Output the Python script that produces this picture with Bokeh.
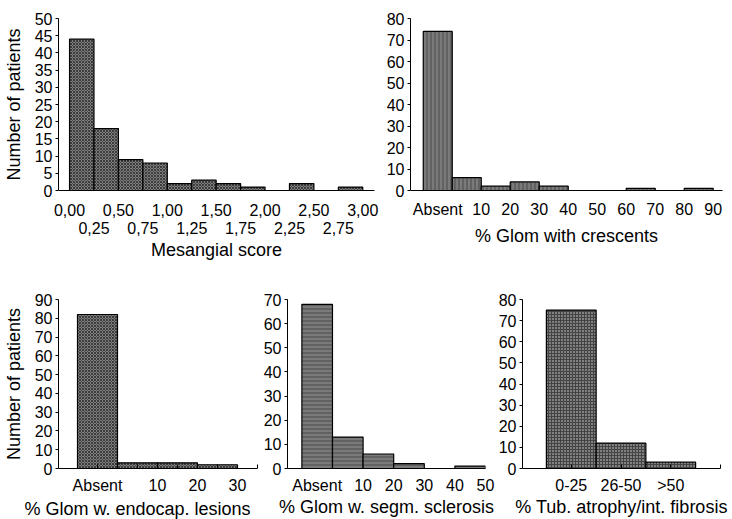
from bokeh.plotting import figure
from bokeh.layouts import column, row
from bokeh.models import FixedTicker, LinearAxis, Range1d, Title
from bokeh.embed import file_html
from bokeh.resources import INLINE

FONT = "Liberation Sans"
TICK_FS = "16px"
TITLE_FS = "18px"

# ---------------- data ----------------
# Panel 1: Mesangial score
mes_edges = [0.00, 0.25, 0.50, 0.75, 1.00, 1.25, 1.50, 1.75, 2.00, 2.25, 2.50, 2.75, 3.00]
mes_counts = [44, 18, 9, 8, 2, 3, 2, 1, 0, 2, 0, 1]
mes_ticks_row1 = [0.0, 0.5, 1.0, 1.5, 2.0, 2.5, 3.0]
mes_labels_row1 = ["0,00", "0,50", "1,00", "1,50", "2,00", "2,50", "3,00"]
mes_ticks_row2 = [0.25, 0.75, 1.25, 1.75, 2.25, 2.75]
mes_labels_row2 = ["0,25", "0,75", "1,25", "1,75", "2,25", "2,75"]
mes_yticks = [0, 5, 10, 15, 20, 25, 30, 35, 40, 45, 50]

# Panel 2: % Glom with crescents ("Absent" bin drawn left of 0)
cres_edges = [-10, 0, 10, 20, 30, 40, 50, 60, 70, 80, 90]
cres_counts = [74, 6, 2, 4, 2, 0, 0, 1, 0, 1]
cres_tick_pos = [-5, 10, 20, 30, 40, 50, 60, 70, 80, 90]
cres_tick_labels = ["Absent", "10", "20", "30", "40", "50", "60", "70", "80", "90"]
cres_yticks = [0, 10, 20, 30, 40, 50, 60, 70, 80]

# Panel 3: % Glom w. endocap. lesions
endo_edges = [-10, 0, 10, 20, 30]
endo_counts = [82, 3, 3, 2]
endo_tick_pos = [-5, 10, 20, 30]
endo_tick_labels = ["Absent", "10", "20", "30"]
endo_yticks = [0, 10, 20, 30, 40, 50, 60, 70, 80, 90]

# Panel 4: % Glom w. segm. sclerosis
scl_edges = [-10, 0, 10, 20, 30, 40, 50]
scl_counts = [68, 13, 6, 2, 0, 1]
scl_tick_pos = [-5, 10, 20, 30, 40, 50]
scl_tick_labels = ["Absent", "10", "20", "30", "40", "50"]
scl_yticks = [0, 10, 20, 30, 40, 50, 60, 70]

# Panel 5: % Tub. atrophy / int. fibrosis
tub_categories = ["0-25", "26-50", ">50"]
tub_counts = [75, 12, 3]
tub_yticks = [0, 10, 20, 30, 40, 50, 60, 70, 80]


# ---------------- helpers ----------------
def base_fig(width, height, xr, ymax, left, right, top, bottom):
    p = figure(width=width, height=height, x_range=Range1d(*xr), y_range=Range1d(0, ymax),
               output_backend="svg", toolbar_location=None,
               min_border_left=left, min_border_right=right,
               min_border_top=top, min_border_bottom=bottom)
    p.xgrid.visible = False
    p.ygrid.visible = False
    p.outline_line_color = None
    p.background_fill_color = "white"
    p.border_fill_color = "white"
    return p


def style_axis(ax):
    ax.axis_line_color = "black"
    ax.axis_line_width = 1
    ax.major_label_text_font = FONT
    ax.major_label_text_font_size = TICK_FS
    ax.major_label_text_color = "black"
    ax.axis_label_text_font = FONT
    ax.axis_label_text_font_size = TITLE_FS
    ax.axis_label_text_font_style = "normal"
    ax.axis_label_text_color = "black"
    ax.minor_tick_line_color = None


def style_y(p, ticks, label=None):
    ax = p.yaxis[0]
    style_axis(ax)
    ax.ticker = FixedTicker(ticks=ticks)
    ax.major_tick_out = 3
    ax.major_tick_in = 0
    ax.major_tick_line_color = "black"
    ax.major_label_standoff = 3
    if label:
        ax.axis_label = label
        ax.axis_label_standoff = 8


def hist(p, edges, counts, pattern, hcolor="#3c3c3c", fcolor="#7e7e7e", scale=3):
    lefts = [edges[i] for i in range(len(counts)) if counts[i] > 0]
    rights = [edges[i + 1] for i in range(len(counts)) if counts[i] > 0]
    tops = [c for c in counts if c > 0]
    p.quad(left=lefts, right=rights, bottom=0, top=tops,
           fill_color=fcolor, line_color="black", line_width=1.2,
           hatch_pattern=pattern, hatch_color=hcolor, hatch_scale=scale, hatch_weight=1)


# ---------------- panel 1 ----------------
p1 = base_fig(380, 270, (-0.113, 3.12), 50, 58, 6, 18, 79)
hist(p1, mes_edges, mes_counts, "diagonal_cross")
style_y(p1, mes_yticks, "Number of patients")
ax = p1.xaxis[0]
style_axis(ax)
ax.ticker = FixedTicker(ticks=mes_ticks_row1)
ax.major_label_overrides = {t: s for t, s in zip(mes_ticks_row1, mes_labels_row1)}
ax.major_tick_out = 0
ax.major_tick_in = 0
ax.major_label_standoff = 13
ax2 = LinearAxis(ticker=FixedTicker(ticks=mes_ticks_row2))
style_axis(ax2)
ax2.major_label_overrides = {t: s for t, s in zip(mes_ticks_row2, mes_labels_row2)}
ax2.axis_line_color = None
ax2.major_tick_line_color = None
ax2.major_tick_out = 0
ax2.major_tick_in = 0
ax2.major_label_standoff = 3
ax2.axis_label = "Mesangial score"
ax2.axis_label_standoff = 3
p1.add_layout(ax2, "below")

# ---------------- panel 2 ----------------
p2 = base_fig(352, 270, (-14.4, 93.2), 80, 30, 10, 13, 80)
hist(p2, cres_edges, cres_counts, "vertical_line", hcolor="#4a4a4a", fcolor="#7a7a7a", scale=4)
style_y(p2, cres_yticks)
ax = p2.xaxis[0]
style_axis(ax)
ax.ticker = FixedTicker(ticks=cres_tick_pos)
ax.major_label_overrides = {t: s for t, s in zip(cres_tick_pos, cres_tick_labels)}
ax.major_tick_out = 0
ax.major_tick_in = 0
ax.major_label_standoff = 10
ax.axis_label = "% Glom with crescents"
ax.axis_label_standoff = 5


def bottom_x(p, pos, labels, minor, title=None):
    ax = p.xaxis[0]
    style_axis(ax)
    ax.ticker = FixedTicker(ticks=pos, minor_ticks=minor)
    ax.major_label_overrides = {t: s for t, s in zip(pos, labels)}
    ax.major_tick_out = 0
    ax.major_tick_in = 0
    ax.minor_tick_line_color = "black" if minor else None
    ax.minor_tick_in = 4
    ax.minor_tick_out = 0
    ax.major_label_standoff = 8
    if title:
        ax.axis_label = title
        ax.axis_label_standoff = 0


# ---------------- panel 3 ----------------
p3 = base_fig(260, 249, (-14.75, 35), 90, 58, 3, 23, 48)
hist(p3, endo_edges, endo_counts, "diagonal_cross")
style_y(p3, endo_yticks, "Number of patients")
endo_minor = [(endo_edges[i] + endo_edges[i + 1]) / 2 for i in range(len(endo_counts))]
endo_minor.append(endo_minor[-1] + (endo_edges[-1] - endo_edges[-2]))
bottom_x(p3, endo_tick_pos, endo_tick_labels, endo_minor)
p3.add_layout(Title(text="% Glom w. endocap. lesions", align="left", offset=-34,
                    text_font=FONT, text_font_size=TITLE_FS, text_font_style="normal",
                    text_color="black", standoff=0), "below")

# ---------------- panel 4 ----------------
p4 = base_fig(235, 249, (-14.7, 50), 70, 26, 10, 23, 50)
hist(p4, scl_edges, scl_counts, "horizontal_line", hcolor="#4a4a4a", fcolor="#7a7a7a", scale=4)
style_y(p4, scl_yticks)
bottom_x(p4, scl_tick_pos, scl_tick_labels, [], "% Glom w. segm. sclerosis")

# ---------------- panel 5 ----------------
tub_x = list(range(len(tub_categories)))
p5 = base_fig(237, 249, (-0.98, 3.0), 80, 26, 12, 29, 49)
hist(p5, [x - 0.5 for x in tub_x] + [tub_x[-1] + 0.5], tub_counts, "cross", hcolor="#444444", fcolor="#808080", scale=3)
style_y(p5, tub_yticks)
bottom_x(p5, tub_x, tub_categories, tub_x + [tub_x[-1] + 1], "% Tub. atrophy/int. fibrosis")

layout = column(row(p1, p2), row(p3, p4, p5))
open("out.html", "w").write(file_html(layout, INLINE))
